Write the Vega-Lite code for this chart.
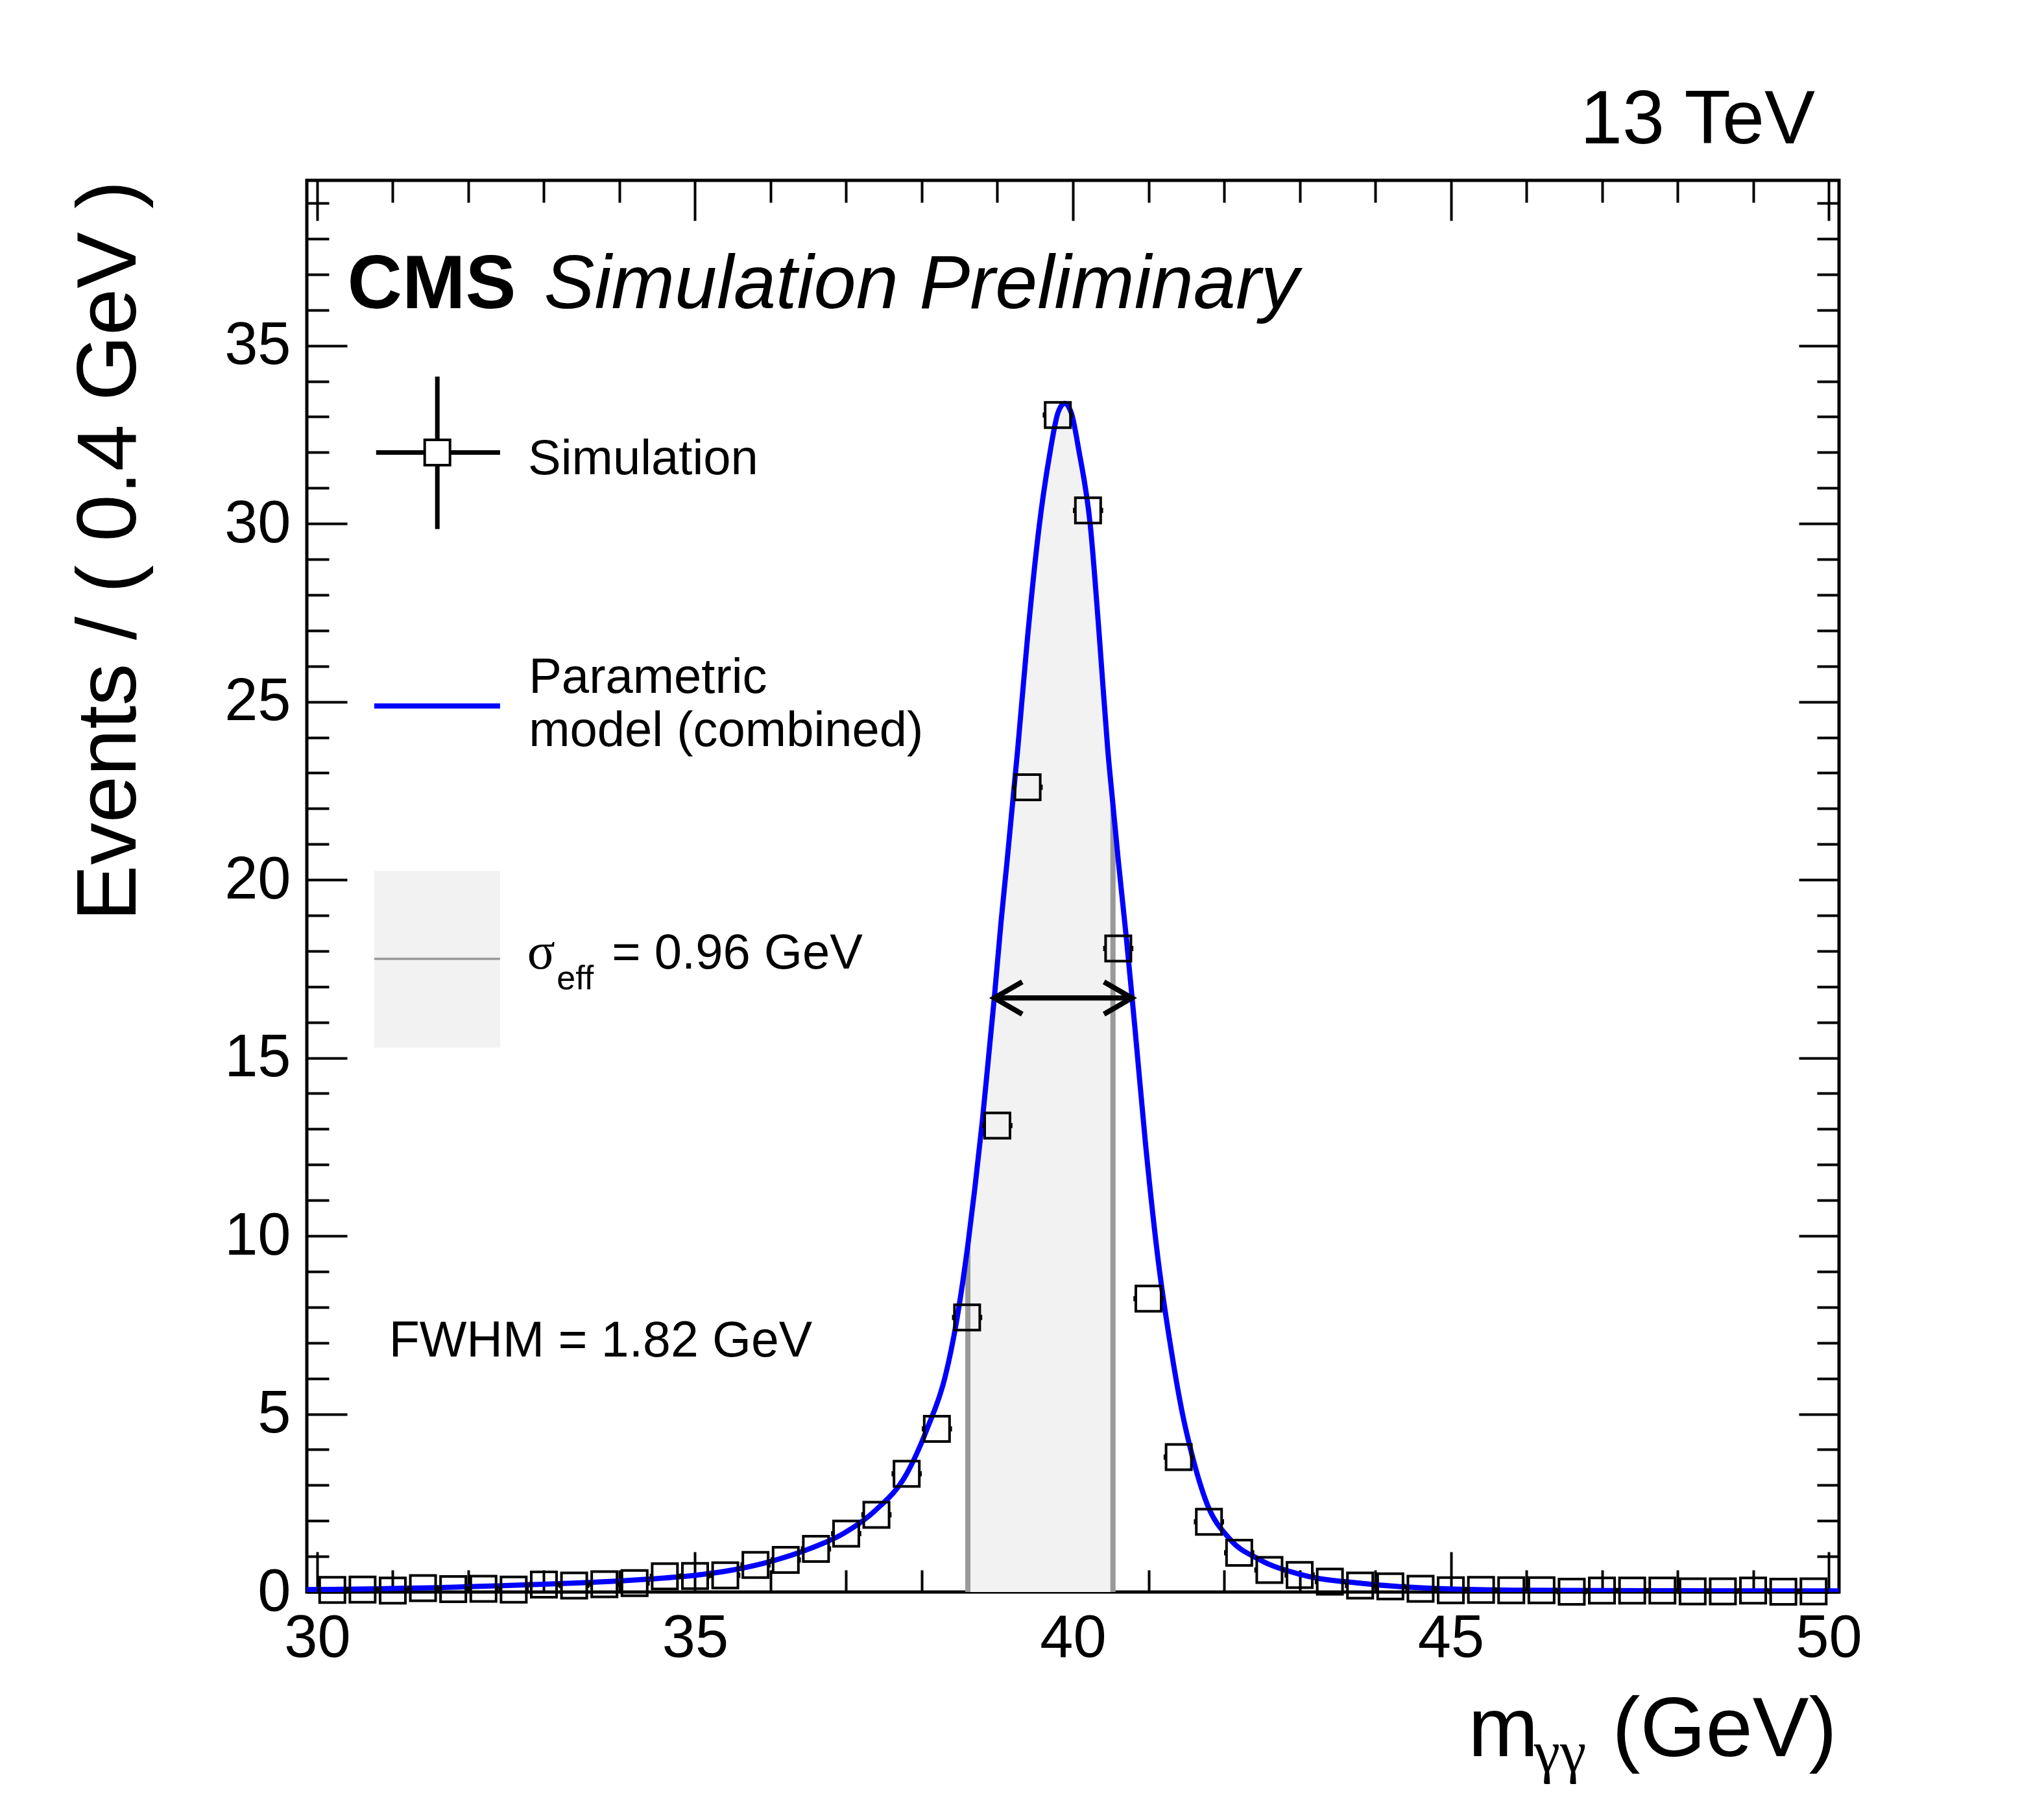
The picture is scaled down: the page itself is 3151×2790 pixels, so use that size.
{
  "$schema": "https://vega.github.io/schema/vega-lite/v6.json",
  "width": 2362,
  "height": 2176,
  "autosize": {"type": "none"},
  "padding": {"left": 473, "top": 278, "right": 316, "bottom": 336},
  "background": "white",
  "datasets": {
    "curve": [
      {"m": 29.863, "v": 0.07}, {"m": 30.5, "v": 0.08}, {"m": 31.0, "v": 0.1}, {"m": 31.5, "v": 0.12},
      {"m": 32.0, "v": 0.15}, {"m": 32.5, "v": 0.18}, {"m": 33.0, "v": 0.22}, {"m": 33.5, "v": 0.26},
      {"m": 34.0, "v": 0.31}, {"m": 34.5, "v": 0.38}, {"m": 35.0, "v": 0.47}, {"m": 35.5, "v": 0.62},
      {"m": 36.0, "v": 0.86}, {"m": 36.47, "v": 1.18}, {"m": 36.97, "v": 1.65}, {"m": 37.38, "v": 2.28},
      {"m": 37.8, "v": 3.32}, {"m": 38.07, "v": 4.58}, {"m": 38.31, "v": 6.05}, {"m": 38.46, "v": 7.6},
      {"m": 38.61, "v": 9.75}, {"m": 38.7, "v": 11.3}, {"m": 38.8, "v": 13.2}, {"m": 38.91, "v": 15.6},
      {"m": 38.96, "v": 16.69}, {"m": 39.05, "v": 18.84}, {"m": 39.13, "v": 20.55}, {"m": 39.27, "v": 23.68},
      {"m": 39.4, "v": 26.82}, {"m": 39.555, "v": 29.95}, {"m": 39.7, "v": 32.04}, {"m": 39.8, "v": 33.1},
      {"m": 39.89, "v": 33.38}, {"m": 39.98, "v": 33.1}, {"m": 40.08, "v": 32.04}, {"m": 40.23, "v": 29.95},
      {"m": 40.35, "v": 26.82}, {"m": 40.46, "v": 23.68}, {"m": 40.53, "v": 22.1}, {"m": 40.6, "v": 20.55},
      {"m": 40.71, "v": 18.3}, {"m": 40.78, "v": 16.75}, {"m": 40.82, "v": 15.85}, {"m": 40.96, "v": 12.6},
      {"m": 41.13, "v": 9.28}, {"m": 41.3, "v": 6.8}, {"m": 41.45, "v": 5.0}, {"m": 41.57, "v": 3.9},
      {"m": 41.77, "v": 2.5}, {"m": 42.07, "v": 1.5}, {"m": 42.46, "v": 0.92}, {"m": 43.0, "v": 0.5},
      {"m": 43.83, "v": 0.24}, {"m": 44.7, "v": 0.11}, {"m": 46.0, "v": 0.05}, {"m": 48.0, "v": 0.035},
      {"m": 50.137, "v": 0.03}
    ],
    "points": [
      {"m": 30.2, "v": 0.06}, {"m": 30.6, "v": 0.07}, {"m": 31.0, "v": 0.04}, {"m": 31.4, "v": 0.11},
      {"m": 31.8, "v": 0.08}, {"m": 32.2, "v": 0.09}, {"m": 32.6, "v": 0.07}, {"m": 33.0, "v": 0.21},
      {"m": 33.4, "v": 0.18}, {"m": 33.8, "v": 0.22}, {"m": 34.2, "v": 0.25}, {"m": 34.6, "v": 0.44},
      {"m": 35.0, "v": 0.45}, {"m": 35.4, "v": 0.47}, {"m": 35.8, "v": 0.76}, {"m": 36.2, "v": 0.9},
      {"m": 36.6, "v": 1.21}, {"m": 37.0, "v": 1.64}, {"m": 37.4, "v": 2.17}, {"m": 37.8, "v": 3.32},
      {"m": 38.2, "v": 4.58}, {"m": 38.6, "v": 7.71}, {"m": 39.0, "v": 13.1}, {"m": 39.4, "v": 22.6},
      {"m": 39.8, "v": 33.05}, {"m": 40.2, "v": 30.37}, {"m": 40.6, "v": 18.07}, {"m": 41.0, "v": 8.24},
      {"m": 41.4, "v": 3.79}, {"m": 41.8, "v": 1.97}, {"m": 42.2, "v": 1.1}, {"m": 42.6, "v": 0.62},
      {"m": 43.0, "v": 0.48}, {"m": 43.4, "v": 0.29}, {"m": 43.8, "v": 0.18}, {"m": 44.2, "v": 0.16},
      {"m": 44.6, "v": 0.09}, {"m": 45.0, "v": 0.05}, {"m": 45.4, "v": 0.06}, {"m": 45.8, "v": 0.05},
      {"m": 46.2, "v": 0.05}, {"m": 46.6, "v": 0.01}, {"m": 47.0, "v": 0.04}, {"m": 47.4, "v": 0.04},
      {"m": 47.8, "v": 0.04}, {"m": 48.2, "v": 0.02}, {"m": 48.6, "v": 0.02}, {"m": 49.0, "v": 0.04},
      {"m": 49.4, "v": 0.01}, {"m": 49.8, "v": 0.02}
    ],
    "edges": [
      {"m": 38.61, "v": 9.75},
      {"m": 40.53, "v": 22.1}
    ]
  },
  "layer": [
    {
      "data": {"name": "curve"},
      "transform": [{"filter": {"field": "m", "range": [38.61, 40.53]}}],
      "mark": {"type": "area", "fill": "#f2f2f2", "interpolate": "monotone"},
      "encoding": {
        "x": {"field": "m", "type": "quantitative", "scale": {"domain": [29.863, 50.137], "nice": false, "zero": false},
          "axis": {"orient": "bottom", "values": [30, 35, 40, 45, 50], "format": "d", "tickSize": -62, "labelPadding": 88, "title": null}},
        "y": {"field": "v", "type": "quantitative", "scale": {"domain": [0, 39.64], "nice": false, "zero": false},
          "axis": {"orient": "left", "values": [0, 5, 10, 15, 20, 25, 30, 35], "format": "d", "tickSize": -62, "labelPadding": 87,
            "title": "Events / ( 0.4 GeV )", "titleFontSize": 130, "titleFontWeight": "normal", "titleFont": "Liberation Sans",
            "titleColor": "black", "titleAnchor": "end", "titleBaseline": "alphabetic", "titlePadding": 137}}
      }
    },
    {
      "data": {"name": "edges"},
      "mark": {"type": "rule", "color": "#999999", "strokeWidth": 8},
      "encoding": {
        "x": {"field": "m", "type": "quantitative", "scale": {"domain": [29.863, 50.137], "nice": false, "zero": false},
          "axis": {"orient": "bottom", "values": [31, 32, 33, 34, 36, 37, 38, 39, 41, 42, 43, 44, 46, 47, 48, 49], "tickSize": -34, "labels": false, "title": null}},
        "y": {"field": "v", "type": "quantitative", "scale": {"domain": [0, 39.64], "nice": false, "zero": false},
          "axis": {"orient": "left", "values": [1, 2, 3, 4, 6, 7, 8, 9, 11, 12, 13, 14, 16, 17, 18, 19, 21, 22, 23, 24, 26, 27, 28, 29, 31, 32, 33, 34, 36, 37, 38, 39], "tickSize": -34, "labels": false, "title": null}},
        "y2": {"datum": 0}
      }
    },
    {
      "data": {"values": [{}]},
      "mark": {"type": "rect", "fill": "#f2f2f2"},
      "encoding": {
        "x": {"datum": 30.755, "type": "quantitative", "scale": {"domain": [29.863, 50.137], "nice": false, "zero": false}, "axis": null},
        "x2": {"datum": 32.42},
        "y": {"datum": 15.29, "type": "quantitative", "scale": {"domain": [0, 39.64], "nice": false, "zero": false}, "axis": null},
        "y2": {"datum": 20.25}
      }
    },
    {
      "data": {"values": [{}]},
      "mark": {"type": "rule", "color": "#999999", "strokeWidth": 3.5},
      "encoding": {
        "x": {"datum": 30.755, "type": "quantitative", "scale": {"domain": [29.863, 50.137], "nice": false, "zero": false}, "axis": null},
        "x2": {"datum": 32.42},
        "y": {"datum": 17.78, "type": "quantitative", "scale": {"domain": [0, 39.64], "nice": false, "zero": false}, "axis": null}
      }
    },
    {
      "data": {"name": "curve"},
      "mark": {"type": "line", "color": "#0000ff", "strokeWidth": 8, "interpolate": "monotone", "clip": true},
      "encoding": {
        "x": {"field": "m", "type": "quantitative", "scale": {"domain": [29.863, 50.137], "nice": false, "zero": false},
          "axis": {"orient": "top", "values": [30, 35, 40, 45, 50], "tickSize": -62, "labels": false, "title": null}},
        "y": {"field": "v", "type": "quantitative", "scale": {"domain": [0, 39.64], "nice": false, "zero": false},
          "axis": {"orient": "right", "values": [0, 5, 10, 15, 20, 25, 30, 35], "tickSize": -62, "labels": false, "title": null}}
      }
    },
    {
      "data": {"values": [{}]},
      "mark": {"type": "rule", "color": "#0000ff", "strokeWidth": 8},
      "encoding": {
        "x": {"datum": 30.755, "type": "quantitative", "scale": {"domain": [29.863, 50.137], "nice": false, "zero": false}, "axis": null},
        "x2": {"datum": 32.42},
        "y": {"datum": 24.88, "type": "quantitative", "scale": {"domain": [0, 39.64], "nice": false, "zero": false}, "axis": null}
      }
    },
    {
      "data": {"name": "points"},
      "mark": {"type": "point", "shape": "M-1.195,0H-1M1,0H1.195", "size": 1521, "filled": false, "stroke": "black", "strokeWidth": 8, "opacity": 1},
      "encoding": {
        "x": {"field": "m", "type": "quantitative", "scale": {"domain": [29.863, 50.137], "nice": false, "zero": false},
          "axis": {"orient": "top", "values": [31, 32, 33, 34, 36, 37, 38, 39, 41, 42, 43, 44, 46, 47, 48, 49], "tickSize": -34, "labels": false, "title": null}},
        "y": {"field": "v", "type": "quantitative", "scale": {"domain": [0, 39.64], "nice": false, "zero": false},
          "axis": {"orient": "right", "values": [1, 2, 3, 4, 6, 7, 8, 9, 11, 12, 13, 14, 16, 17, 18, 19, 21, 22, 23, 24, 26, 27, 28, 29, 31, 32, 33, 34, 36, 37, 38, 39], "tickSize": -34, "labels": false, "title": null}}
      }
    },
    {
      "data": {"name": "points"},
      "mark": {"type": "point", "shape": "square", "size": 1521, "filled": false, "stroke": "black", "strokeWidth": 4, "opacity": 1},
      "encoding": {
        "x": {"field": "m", "type": "quantitative", "scale": {"domain": [29.863, 50.137], "nice": false, "zero": false}, "axis": null},
        "y": {"field": "v", "type": "quantitative", "scale": {"domain": [0, 39.64], "nice": false, "zero": false}, "axis": null}
      }
    },
    {
      "data": {"values": [{}]},
      "mark": {"type": "rule", "color": "black", "strokeWidth": 7},
      "encoding": {
        "x": {"datum": 30.78, "type": "quantitative", "scale": {"domain": [29.863, 50.137], "nice": false, "zero": false}, "axis": null},
        "x2": {"datum": 32.42},
        "y": {"datum": 32.0, "type": "quantitative", "scale": {"domain": [0, 39.64], "nice": false, "zero": false}, "axis": null}
      }
    },
    {
      "data": {"values": [{}]},
      "mark": {"type": "rule", "color": "black", "strokeWidth": 7},
      "encoding": {
        "x": {"datum": 31.59, "type": "quantitative", "scale": {"domain": [29.863, 50.137], "nice": false, "zero": false}, "axis": null},
        "y": {"datum": 29.85, "type": "quantitative", "scale": {"domain": [0, 39.64], "nice": false, "zero": false}, "axis": null},
        "y2": {"datum": 34.13}
      }
    },
    {
      "data": {"values": [{}]},
      "mark": {"type": "point", "shape": "square", "size": 1521, "filled": true, "fill": "white", "stroke": "black", "strokeWidth": 4, "opacity": 1},
      "encoding": {
        "x": {"datum": 31.59, "type": "quantitative", "scale": {"domain": [29.863, 50.137], "nice": false, "zero": false}, "axis": null},
        "y": {"datum": 32.0, "type": "quantitative", "scale": {"domain": [0, 39.64], "nice": false, "zero": false}, "axis": null}
      }
    },
    {
      "data": {"values": [{}]},
      "mark": {"type": "rule", "color": "black", "strokeWidth": 8},
      "encoding": {
        "x": {"datum": 38.96, "type": "quantitative", "scale": {"domain": [29.863, 50.137], "nice": false, "zero": false}, "axis": null},
        "x2": {"datum": 40.78},
        "y": {"datum": 16.68, "type": "quantitative", "scale": {"domain": [0, 39.64], "nice": false, "zero": false}, "axis": null}
      }
    },
    {
      "data": {"values": [{}]},
      "mark": {"type": "point", "shape": "M1,-0.58L0,0L1,0.58", "size": 7396, "filled": false, "stroke": "black", "strokeWidth": 8, "strokeJoin": "miter", "opacity": 1},
      "encoding": {
        "x": {"datum": 38.96, "type": "quantitative", "scale": {"domain": [29.863, 50.137], "nice": false, "zero": false}, "axis": null},
        "y": {"datum": 16.68, "type": "quantitative", "scale": {"domain": [0, 39.64], "nice": false, "zero": false}, "axis": null}
      }
    },
    {
      "data": {"values": [{}]},
      "mark": {"type": "point", "shape": "M-1,-0.58L0,0L-1,0.58", "size": 7396, "filled": false, "stroke": "black", "strokeWidth": 8, "strokeJoin": "miter", "opacity": 1},
      "encoding": {
        "x": {"datum": 40.78, "type": "quantitative", "scale": {"domain": [29.863, 50.137], "nice": false, "zero": false}, "axis": null},
        "y": {"datum": 16.68, "type": "quantitative", "scale": {"domain": [0, 39.64], "nice": false, "zero": false}, "axis": null}
      }
    },
    {
      "data": {"values": [{}]},
      "mark": {"type": "text", "text": "CMS", "font": "Liberation Sans", "fontWeight": "bold", "fontSize": 117, "align": "left", "baseline": "alphabetic", "color": "black"},
      "encoding": {
        "x": {"datum": 30.4, "type": "quantitative", "scale": {"domain": [29.863, 50.137], "nice": false, "zero": false}, "axis": null},
        "y": {"datum": 36.05, "type": "quantitative", "scale": {"domain": [0, 39.64], "nice": false, "zero": false}, "axis": null}
      }
    },
    {
      "data": {"values": [{}]},
      "mark": {"type": "text", "text": "Simulation Preliminary", "font": "Liberation Sans", "fontStyle": "italic", "fontSize": 117, "align": "left", "baseline": "alphabetic", "color": "black"},
      "encoding": {
        "x": {"datum": 33.0, "type": "quantitative", "scale": {"domain": [29.863, 50.137], "nice": false, "zero": false}, "axis": null},
        "y": {"datum": 36.05, "type": "quantitative", "scale": {"domain": [0, 39.64], "nice": false, "zero": false}, "axis": null}
      }
    },
    {
      "data": {"values": [{}]},
      "mark": {"type": "text", "text": "13 TeV", "font": "Liberation Sans", "fontSize": 117, "align": "right", "baseline": "alphabetic", "color": "black"},
      "encoding": {
        "x": {"datum": 49.82, "type": "quantitative", "scale": {"domain": [29.863, 50.137], "nice": false, "zero": false}, "axis": null},
        "y": {"datum": 40.68, "type": "quantitative", "scale": {"domain": [0, 39.64], "nice": false, "zero": false}, "axis": null}
      }
    },
    {
      "data": {"values": [{}]},
      "mark": {"type": "text", "text": "Simulation", "font": "Liberation Sans", "fontSize": 76, "align": "left", "baseline": "alphabetic", "color": "black"},
      "encoding": {
        "x": {"datum": 32.79, "type": "quantitative", "scale": {"domain": [29.863, 50.137], "nice": false, "zero": false}, "axis": null},
        "y": {"datum": 31.38, "type": "quantitative", "scale": {"domain": [0, 39.64], "nice": false, "zero": false}, "axis": null}
      }
    },
    {
      "data": {"values": [{}]},
      "mark": {"type": "text", "text": "Parametric", "font": "Liberation Sans", "fontSize": 76, "align": "left", "baseline": "alphabetic", "color": "black"},
      "encoding": {
        "x": {"datum": 32.8, "type": "quantitative", "scale": {"domain": [29.863, 50.137], "nice": false, "zero": false}, "axis": null},
        "y": {"datum": 25.25, "type": "quantitative", "scale": {"domain": [0, 39.64], "nice": false, "zero": false}, "axis": null}
      }
    },
    {
      "data": {"values": [{}]},
      "mark": {"type": "text", "text": "model (combined)", "font": "Liberation Sans", "fontSize": 76, "align": "left", "baseline": "alphabetic", "color": "black"},
      "encoding": {
        "x": {"datum": 32.8, "type": "quantitative", "scale": {"domain": [29.863, 50.137], "nice": false, "zero": false}, "axis": null},
        "y": {"datum": 23.76, "type": "quantitative", "scale": {"domain": [0, 39.64], "nice": false, "zero": false}, "axis": null}
      }
    },
    {
      "data": {"values": [{}]},
      "mark": {"type": "text", "text": "σ", "font": "Liberation Serif", "fontSize": 80, "align": "left", "baseline": "alphabetic", "color": "black"},
      "encoding": {
        "x": {"datum": 32.78, "type": "quantitative", "scale": {"domain": [29.863, 50.137], "nice": false, "zero": false}, "axis": null},
        "y": {"datum": 17.51, "type": "quantitative", "scale": {"domain": [0, 39.64], "nice": false, "zero": false}, "axis": null}
      }
    },
    {
      "data": {"values": [{}]},
      "mark": {"type": "text", "text": "eff", "font": "Liberation Sans", "fontSize": 52, "align": "left", "baseline": "alphabetic", "color": "black"},
      "encoding": {
        "x": {"datum": 33.17, "type": "quantitative", "scale": {"domain": [29.863, 50.137], "nice": false, "zero": false}, "axis": null},
        "y": {"datum": 16.93, "type": "quantitative", "scale": {"domain": [0, 39.64], "nice": false, "zero": false}, "axis": null}
      }
    },
    {
      "data": {"values": [{}]},
      "mark": {"type": "text", "text": "= 0.96 GeV", "font": "Liberation Sans", "fontSize": 76, "align": "left", "baseline": "alphabetic", "color": "black"},
      "encoding": {
        "x": {"datum": 33.9, "type": "quantitative", "scale": {"domain": [29.863, 50.137], "nice": false, "zero": false}, "axis": null},
        "y": {"datum": 17.51, "type": "quantitative", "scale": {"domain": [0, 39.64], "nice": false, "zero": false}, "axis": null}
      }
    },
    {
      "data": {"values": [{}]},
      "mark": {"type": "text", "text": "FWHM = 1.82 GeV", "font": "Liberation Sans", "fontSize": 77, "align": "left", "baseline": "alphabetic", "color": "black"},
      "encoding": {
        "x": {"datum": 30.95, "type": "quantitative", "scale": {"domain": [29.863, 50.137], "nice": false, "zero": false}, "axis": null},
        "y": {"datum": 6.61, "type": "quantitative", "scale": {"domain": [0, 39.64], "nice": false, "zero": false}, "axis": null}
      }
    },
    {
      "data": {"values": [{}]},
      "mark": {"type": "text", "text": "m", "font": "Liberation Sans", "fontSize": 130, "align": "left", "baseline": "alphabetic", "color": "black"},
      "encoding": {
        "x": {"datum": 45.23, "type": "quantitative", "scale": {"domain": [29.863, 50.137], "nice": false, "zero": false}, "axis": null},
        "y": {"datum": -4.61, "type": "quantitative", "scale": {"domain": [0, 39.64], "nice": false, "zero": false}, "axis": null}
      }
    },
    {
      "data": {"values": [{}]},
      "mark": {"type": "text", "text": "γγ", "font": "Liberation Serif", "fontSize": 91, "align": "left", "baseline": "alphabetic", "color": "black"},
      "encoding": {
        "x": {"datum": 46.1, "type": "quantitative", "scale": {"domain": [29.863, 50.137], "nice": false, "zero": false}, "axis": null},
        "y": {"datum": -5.05, "type": "quantitative", "scale": {"domain": [0, 39.64], "nice": false, "zero": false}, "axis": null}
      }
    },
    {
      "data": {"values": [{}]},
      "mark": {"type": "text", "text": "(GeV)", "font": "Liberation Sans", "fontSize": 130, "align": "right", "baseline": "alphabetic", "color": "black"},
      "encoding": {
        "x": {"datum": 50.11, "type": "quantitative", "scale": {"domain": [29.863, 50.137], "nice": false, "zero": false}, "axis": null},
        "y": {"datum": -4.61, "type": "quantitative", "scale": {"domain": [0, 39.64], "nice": false, "zero": false}, "axis": null}
      }
    }
  ],
  "resolve": {"axis": {"x": "independent", "y": "independent"}},
  "config": {
    "view": {"stroke": "black", "strokeWidth": 5},
    "font": "Liberation Sans",
    "axis": {
      "domain": false,
      "grid": false,
      "ticks": true,
      "tickColor": "black",
      "tickWidth": 4,
      "labelColor": "black",
      "labelFont": "Liberation Sans",
      "labelFontSize": 92,
      "labelFlush": false,
      "labelOverlap": false,
      "labelBound": false,
      "minExtent": 0,
      "maxExtent": 1000
    }
  }
}
